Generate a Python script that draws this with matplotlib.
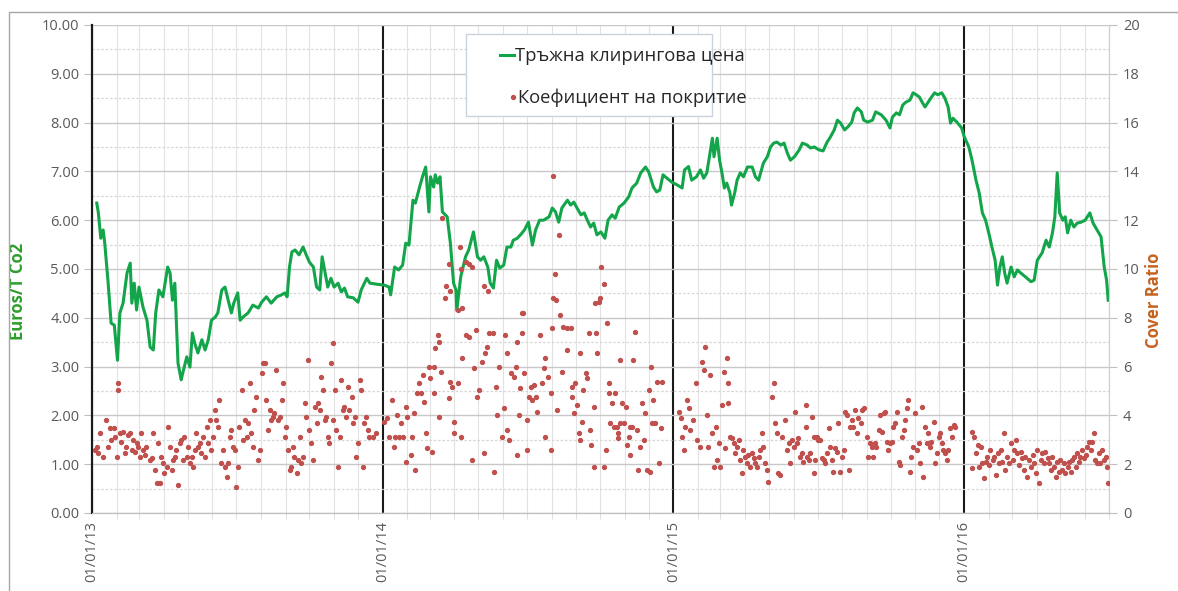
import matplotlib
matplotlib.use("Agg")
import matplotlib.pyplot as plt
import matplotlib.dates as mdates
from matplotlib.ticker import MultipleLocator, FormatStrFormatter
from matplotlib.lines import Line2D
from matplotlib.patches import Rectangle
import numpy as np
import pandas as pd

plt.rcParams['font.family'] = ['Open Sans', 'DejaVu Sans']

# ---------------- data ----------------
# auction clearing price (EUR/t CO2): day-of-year and value, per year
price_2013_day = [6, 8, 11, 14, 16, 20, 24, 28, 32, 35, 39, 44, 48, 50, 53, 56, 59, 64, 69, 73, 77, 80, 84, 89,
                  95, 98, 101, 104, 108, 112, 114, 119, 123, 126, 129, 133, 138, 142, 146, 150, 155, 158, 163,
                  167, 171, 175, 178, 183, 186, 190, 196, 202, 209, 213, 219, 225, 232, 238, 242, 245, 248, 251,
                  255, 260, 265, 269, 273, 278, 282, 286, 289, 292, 296, 300, 304, 309, 313, 317, 321, 328, 334,
                  338, 345, 349, 357]
price_2013_val = [6.35, 6.15, 5.63, 5.80, 5.53, 4.77, 3.89, 3.85, 3.13, 4.10, 4.30, 4.92, 5.12, 4.30, 4.71, 4.16,
                  4.63, 4.22, 3.95, 3.40, 3.34, 4.10, 4.57, 4.43, 5.04, 4.92, 4.36, 4.71, 3.07, 2.73, 2.87, 3.20,
                  2.99, 3.69, 3.48, 3.28, 3.55, 3.34, 3.55, 3.95, 4.02, 4.10, 4.57, 4.63, 4.36, 4.10, 4.30, 4.51,
                  3.95, 4.02, 4.10, 4.26, 4.20, 4.32, 4.43, 4.30, 4.43, 4.47, 4.51, 4.43, 5.04, 5.35, 5.39, 5.29,
                  5.45, 5.29, 5.14, 5.04, 4.63, 4.57, 5.25, 4.98, 4.63, 4.81, 4.63, 4.71, 4.53, 4.61, 4.43, 4.41,
                  4.32, 4.57, 4.81, 4.71, 4.69]
price_2014_day = [2, 8, 10, 15, 20, 25, 29, 33, 38, 41, 47, 50, 54, 58, 60, 64, 66, 69, 72, 75, 81, 85, 89, 92,
                  93, 98, 104, 108, 114, 119, 123, 127, 132, 135, 139, 143, 147, 152, 156, 161, 164, 169, 173,
                  178, 183, 188, 192, 197, 202, 209, 213, 217, 221, 225, 232, 236, 240, 244, 249, 253, 257, 261,
                  265, 269, 274, 279, 283, 288, 292, 297, 303, 309, 313, 319, 324, 330, 334, 340, 344, 348, 352,
                  357, 363]
price_2014_val = [4.67, 4.63, 4.47, 5.04, 4.98, 5.08, 5.53, 5.49, 6.41, 6.35, 6.72, 6.89, 7.09, 6.17, 6.89, 6.68,
                  6.93, 6.76, 6.89, 6.17, 6.07, 5.53, 4.71, 4.57, 4.15, 4.84, 5.25, 5.39, 5.76, 5.25, 5.18, 5.25,
                  5.04, 4.71, 4.61, 5.18, 5.02, 5.08, 5.45, 5.45, 5.59, 5.63, 5.70, 5.80, 5.96, 5.49, 5.80, 6.00,
                  6.00, 6.07, 6.25, 6.17, 5.96, 6.25, 6.41, 6.31, 6.37, 6.25, 6.11, 6.15, 6.00, 5.86, 5.94, 5.70,
                  5.76, 5.63, 6.00, 6.11, 6.04, 6.27, 6.35, 6.48, 6.66, 6.76, 6.97, 7.09, 6.99, 6.68, 6.58, 6.62,
                  6.93, 6.86, 6.78]
price_2015_day = [5, 11, 14, 19, 23, 29, 34, 38, 42, 46, 49, 51, 55, 58, 61, 64, 67, 71, 73, 77, 80, 84, 88, 93,
                  99, 103, 107, 113, 118, 122, 126, 130, 135, 139, 143, 147, 152, 158, 162, 168, 172, 177, 183,
                  188, 193, 197, 202, 206, 210, 215, 219, 224, 227, 231, 236, 239, 244, 250, 254, 261, 267, 272,
                  275, 280, 284, 288, 292, 297, 301, 305, 309, 313, 316, 320, 324, 328, 332, 337, 341, 345, 348,
                  351, 356, 362]
price_2015_val = [6.72, 6.66, 7.03, 7.10, 6.82, 6.89, 7.03, 6.86, 6.97, 7.38, 7.68, 7.30, 7.68, 7.23, 6.97, 6.66,
                  6.76, 6.56, 6.31, 6.56, 6.82, 6.97, 6.89, 7.09, 7.09, 6.89, 6.82, 7.17, 7.30, 7.50, 7.58, 7.60,
                  7.54, 7.58, 7.38, 7.23, 7.30, 7.44, 7.58, 7.54, 7.48, 7.50, 7.44, 7.42, 7.60, 7.70, 7.85, 8.05,
                  7.99, 7.85, 7.91, 8.01, 8.20, 8.30, 8.22, 8.05, 8.01, 8.05, 8.22, 8.16, 8.05, 7.89, 8.11, 8.20,
                  8.16, 8.36, 8.42, 8.46, 8.61, 8.57, 8.52, 8.40, 8.32, 8.42, 8.52, 8.61, 8.57, 8.61, 8.50, 8.32,
                  7.99, 8.09, 8.01, 7.89]
price_2016_day = [0, 6, 10, 15, 19, 23, 27, 31, 35, 39, 42, 45, 48, 51, 54, 59, 63, 67, 71, 77, 84, 88, 92, 98,
                  103, 107, 111, 114, 117, 120, 124, 127, 130, 134, 138, 142, 147, 152, 158, 162, 167, 172, 176,
                  179, 181]
price_2016_val = [7.72, 7.50, 7.23, 6.82, 6.56, 6.15, 6.00, 5.74, 5.45, 5.18, 4.67, 5.04, 5.25, 4.92, 4.71, 5.04,
                  4.84, 4.98, 4.92, 4.84, 4.74, 4.77, 5.18, 5.33, 5.59, 5.45, 5.74, 6.07, 6.97, 6.15, 6.00, 6.07,
                  5.74, 6.00, 5.86, 5.94, 5.96, 6.00, 6.15, 5.94, 5.80, 5.66, 5.04, 4.77, 4.36]

# cover ratio: day-of-year and value, per year
cover_2013_day = [4, 6, 8, 10, 14, 18, 20, 22, 24, 27, 29, 31, 33, 33, 35, 37, 39, 41, 43, 45, 48, 50, 52, 54, 56,
                  58, 60, 62, 64, 66, 68, 73, 75, 77, 79, 81, 83, 85, 87, 89, 91, 94, 96, 98, 100, 102, 104, 106,
                  108, 110, 112, 114, 116, 119, 121, 123, 125, 127, 129, 131, 133, 135, 137, 140, 142, 144, 146,
                  148, 150, 152, 154, 156, 158, 160, 162, 165, 167, 169, 171, 173, 175, 177, 179, 181, 183, 185,
                  188, 190, 192, 194, 196, 198, 200, 202, 204, 206, 208, 211, 213, 215, 217, 219, 221, 223, 225,
                  227, 229, 231, 234, 236, 238, 240, 242, 244, 246, 248, 250, 252, 254, 257, 259, 261, 263, 265,
                  267, 269, 271, 273, 275, 277, 280, 282, 284, 286, 288, 290, 292, 294, 296, 298, 300, 302, 303,
                  305, 307, 309, 311, 313, 315, 317, 319, 321, 323, 326, 328, 330, 332, 334, 336, 338, 340, 342,
                  344, 346, 348, 353, 357]
cover_2013_val = [2.6, 2.7, 2.45, 3.27, 2.31, 3.81, 2.72, 3.47, 3.0, 3.47, 3.13, 2.31, 5.32, 5.04, 3.27, 2.93,
                  3.33, 2.45, 2.72, 3.2, 3.27, 2.58, 3.0, 2.51, 2.86, 2.72, 2.31, 3.27, 2.58, 2.38, 2.72, 2.17,
                  2.24, 3.27, 1.76, 1.22, 2.86, 1.22, 2.31, 2.04, 1.63, 1.9, 3.54, 2.72, 1.76, 2.17, 2.31, 2.58,
                  1.15, 2.86, 3.0, 2.17, 3.13, 2.31, 2.72, 2.04, 2.31, 1.9, 2.58, 3.27, 2.72, 2.86, 2.45, 3.13,
                  2.31, 3.54, 2.86, 3.81, 2.58, 3.13, 4.22, 3.81, 3.54, 4.63, 2.04, 2.58, 1.9, 1.49, 2.04, 3.13,
                  3.4, 2.72, 2.58, 1.08, 1.9, 3.54, 5.04, 3.0, 3.81, 3.13, 3.68, 5.32, 3.27, 2.72, 4.22, 4.77,
                  2.17, 2.58, 5.73, 6.13, 6.13, 4.63, 3.4, 4.22, 3.81, 3.95, 4.09, 5.86, 3.81, 3.95, 4.63, 5.32,
                  3.13, 3.54, 2.58, 1.76, 1.9, 2.72, 2.31, 1.63, 2.17, 3.13, 2.04, 2.31, 4.5, 3.95, 6.27, 3.4,
                  2.86, 2.17, 4.36, 3.68, 4.5, 4.22, 5.59, 5.04, 3.81, 3.95, 3.13, 2.86, 6.13, 6.95, 3.81, 5.04,
                  3.4, 1.9, 3.13, 5.45, 4.22, 4.36, 3.95, 5.18, 4.22, 4.77, 3.68, 3.95, 2.31, 2.86, 5.45, 5.04,
                  1.9, 3.68, 3.95, 3.4, 3.13, 3.13, 3.27]
cover_2014_day = [2, 6, 8, 12, 14, 16, 18, 20, 23, 25, 29, 29, 31, 35, 37, 39, 41, 43, 46, 48, 50, 52, 54, 56,
                  58, 60, 62, 64, 64, 66, 69, 71, 71, 73, 75, 78, 79, 83, 83, 85, 85, 87, 89, 90, 94, 94, 97, 98,
                  98, 100, 100, 104, 105, 108, 109, 112, 112, 115, 117, 119, 121, 125, 127, 127, 129, 131, 132,
                  133, 138, 140, 142, 144, 146, 150, 152, 154, 156, 156, 158, 161, 165, 167, 169, 169, 171, 173,
                  175, 175, 176, 177, 181, 181, 184, 186, 188, 190, 192, 194, 198, 200, 202, 204, 204, 207, 211,
                  211, 213, 214, 214, 216, 217, 219, 222, 223, 225, 227, 232, 232, 236, 238, 238, 240, 242, 244,
                  246, 248, 248, 250, 252, 255, 257, 259, 260, 261, 265, 265, 267, 268, 269, 271, 273, 274, 278,
                  278, 280, 282, 284, 284, 286, 288, 290, 292, 294, 296, 296, 298, 298, 301, 303, 305, 307, 309,
                  311, 311, 313, 314, 317, 319, 321, 323, 326, 328, 330, 332, 334, 336, 337, 338, 340, 342, 344,
                  347, 349, 351]
cover_2014_val = [3.74, 3.88, 3.13, 4.63, 2.72, 3.13, 4.02, 3.13, 3.68, 3.13, 4.36, 2.11, 3.95, 2.38, 3.13, 4.09,
                  1.76, 4.91, 5.32, 4.91, 5.66, 4.56, 3.27, 2.65, 6.0, 5.52, 2.52, 6.0, 4.91, 6.75, 7.3, 7.02, 3.95,
                  5.79, 12.1, 8.8, 9.3, 4.7, 10.2, 5.38, 9.1, 5.18, 3.74, 3.27, 5.32, 8.3, 10.9, 3.13, 10.0, 6.34,
                  8.4, 7.3, 10.3, 7.23, 10.2, 2.17, 10.1, 5.93, 7.5, 4.77, 5.04, 6.2, 2.45, 9.3, 6.54, 6.82, 9.1,
                  7.36, 7.36, 1.7, 5.18, 4.02, 6.0, 3.13, 4.29, 7.3, 6.54, 3.4, 3.0, 5.72, 5.59, 6.0, 7.02, 2.38,
                  4.02, 5.11, 8.21, 7.36, 8.2, 5.72, 3.81, 2.58, 4.77, 5.18, 4.63, 5.25, 4.77, 4.15, 7.3, 5.32,
                  5.93, 3.13, 6.34, 5.59, 4.91, 2.58, 7.57, 13.8, 8.8, 9.8, 8.73, 4.22, 11.4, 8.12, 5.79, 7.64,
                  7.57, 6.68, 7.57, 4.77, 5.18, 4.09, 5.32, 4.43, 3.27, 6.54, 3.0, 3.74, 5.04, 5.72, 5.52, 7.36,
                  3.4, 2.79, 4.36, 1.9, 8.59, 7.36, 6.54, 8.66, 8.8, 10.1, 1.9, 9.4, 2.58, 7.77, 5.32, 4.91, 3.68,
                  4.5, 3.54, 4.91, 3.54, 3.27, 3.06, 6.27, 3.68, 4.5, 3.68, 4.36, 2.79, 3.13, 3.54, 2.38, 3.54,
                  6.27, 7.43, 3.4, 1.76, 2.72, 4.5, 3.0, 4.09, 1.76, 5.04, 1.7, 6.0, 3.68, 4.63, 3.68, 5.38, 2.04,
                  3.47, 5.38]
cover_2015_day = [7, 9, 11, 13, 15, 17, 19, 21, 25, 28, 30, 34, 36, 38, 40, 42, 44, 46, 48, 51, 53, 55, 57, 59,
                  61, 63, 65, 67, 69, 69, 71, 73, 76, 78, 80, 82, 84, 86, 88, 90, 92, 94, 96, 99, 101, 103, 105,
                  107, 109, 111, 113, 115, 117, 119, 124, 126, 128, 130, 132, 134, 136, 140, 143, 145, 147, 149,
                  151, 153, 155, 157, 159, 161, 163, 166, 166, 168, 170, 172, 174, 176, 176, 178, 180, 182, 184,
                  186, 189, 191, 193, 195, 197, 199, 201, 203, 205, 207, 209, 212, 214, 216, 218, 220, 222, 224,
                  226, 228, 230, 232, 235, 237, 239, 243, 245, 247, 249, 251, 253, 255, 258, 260, 262, 264, 266,
                  268, 270, 272, 274, 276, 278, 281, 283, 285, 287, 289, 291, 293, 295, 297, 299, 301, 304, 306,
                  308, 310, 312, 314, 316, 318, 320, 322, 324, 327, 329, 331, 333, 335, 337, 339, 341, 343, 345,
                  347, 350, 352, 354]
cover_2015_val = [4.15, 3.88, 3.13, 2.58, 3.54, 4.63, 4.29, 3.4, 3.81, 5.32, 3.0, 2.72, 6.2, 5.86, 6.82, 4.02,
                  2.72, 5.66, 3.27, 1.9, 3.54, 2.17, 2.86, 1.9, 4.43, 5.79, 2.65, 6.34, 5.32, 4.5, 3.13, 3.06, 2.86,
                  2.45, 2.72, 3.0, 2.17, 1.63, 2.58, 2.31, 2.04, 2.38, 1.9, 2.45, 2.24, 2.04, 1.9, 2.31, 2.58, 3.27,
                  2.72, 2.04, 1.76, 1.29, 4.77, 5.32, 3.68, 3.27, 1.63, 1.56, 3.13, 3.81, 2.58, 2.86, 2.04, 3.0,
                  2.72, 4.15, 2.86, 3.06, 2.31, 2.45, 2.11, 4.43, 3.54, 2.31, 2.17, 2.45, 3.95, 1.63, 3.13, 2.17,
                  3.13, 3.0, 3.0, 2.24, 2.17, 2.04, 2.45, 3.47, 2.72, 2.17, 1.7, 2.65, 2.51, 3.68, 1.7, 2.31, 2.58,
                  4.15, 4.02, 1.76, 3.54, 3.81, 3.54, 4.22, 3.27, 3.88, 3.68, 4.22, 4.29, 3.13, 2.31, 2.86, 2.72,
                  2.31, 2.86, 2.72, 3.4, 4.02, 3.33, 4.09, 4.15, 2.93, 2.58, 2.86, 2.93, 3.54, 3.68, 4.15, 2.11,
                  1.97, 3.13, 3.4, 3.81, 4.29, 4.63, 1.7, 2.31, 2.72, 4.09, 2.58, 2.86, 2.04, 4.36, 1.49, 3.54,
                  2.86, 3.27, 2.72, 2.93, 3.74, 2.04, 2.45, 3.13, 3.27, 2.86, 2.58, 2.45, 2.17, 2.58, 3.47, 3.13,
                  3.61, 3.54]
cover_2016_day = [10, 10, 13, 15, 17, 19, 21, 23, 25, 27, 29, 31, 33, 36, 38, 40, 42, 44, 46, 48, 50, 52, 54, 56,
                  59, 61, 63, 65, 67, 69, 71, 73, 75, 77, 79, 82, 84, 86, 88, 90, 92, 94, 96, 98, 100, 102, 105,
                  107, 109, 111, 113, 115, 117, 119, 121, 123, 125, 127, 130, 132, 134, 136, 138, 140, 142, 144,
                  146, 148, 150, 153, 155, 157, 159, 161, 163, 165, 167, 169, 171, 173, 176, 178, 180, 181]
cover_2016_val = [3.33, 1.83, 3.13, 2.45, 2.79, 1.9, 2.72, 2.04, 1.42, 2.11, 2.31, 1.97, 2.58, 2.17, 2.31, 1.56,
                  2.45, 2.04, 2.58, 2.11, 3.27, 1.76, 2.31, 2.04, 2.86, 2.17, 2.58, 3.0, 2.45, 1.97, 2.51, 2.24,
                  1.76, 2.31, 1.49, 2.17, 1.9, 2.38, 2.04, 1.63, 2.58, 1.22, 2.17, 2.45, 2.04, 2.51, 2.24, 2.04,
                  1.76, 2.31, 1.9, 1.49, 2.11, 1.7, 2.17, 1.76, 2.04, 1.63, 1.9, 2.11, 1.7, 2.17, 2.31, 1.9, 2.45,
                  2.11, 2.31, 2.58, 2.24, 2.38, 2.72, 2.93, 2.58, 2.93, 3.27, 2.17, 2.04, 2.45, 2.04, 2.58, 2.17,
                  2.31, 1.9, 1.22]

years = [2013, 2014, 2015, 2016]
price_days = [price_2013_day, price_2014_day, price_2015_day, price_2016_day]
price_vals = [price_2013_val, price_2014_val, price_2015_val, price_2016_val]
cover_days = [cover_2013_day, cover_2014_day, cover_2015_day, cover_2016_day]
cover_vals = [cover_2013_val, cover_2014_val, cover_2015_val, cover_2016_val]

legend_labels = ["Тръжна клирингова цена", "Коефициент на покритие"]
left_label = "Euros/T Co2"
right_label = "Cover Ratio"


def to_dates(year, days):
    return pd.Timestamp(f"{year}-01-01") + pd.to_timedelta(np.array(days, dtype=float), unit="D")


price_x = np.concatenate([to_dates(y, d) for y, d in zip(years, price_days)])
price_y = np.concatenate([np.array(v) for v in price_vals])
cover_x = np.concatenate([to_dates(y, d) for y, d in zip(years, cover_days)])
cover_y = np.concatenate([np.array(v) for v in cover_vals])

# ---------------- figure ----------------
W, H = 1178, 591
fig = plt.figure(figsize=(W / 100, H / 100), dpi=100)
fig.patch.set_facecolor("white")

# outer chart frame
fig.patches.append(Rectangle((9 / W, -0.1), 1.2, 1 - 12 / H + 0.1, transform=fig.transFigure,
                             fill=False, edgecolor="#A6A6A6", linewidth=1.0))

ax = fig.add_axes([92 / W, 1 - 513 / H, (1109 - 92) / W, (513 - 25) / H])
ax2 = ax.twinx()

GREEN = "#12A54A"
RED = "#C0504D"
TXT = "#595959"

ax.plot(price_x, price_y, color=GREEN, lw=2.2, zorder=3, solid_joinstyle="round")
ax2.plot(cover_x, cover_y, linestyle="none", marker="o", ms=2.8, color=RED, mec=RED, zorder=3)

ax.set_xlim(pd.Timestamp("2013-01-01"), pd.Timestamp("2016-07-01"))
ax.set_ylim(0, 10)
ax2.set_ylim(0, 20)

ax.yaxis.set_major_locator(MultipleLocator(1))
ax.yaxis.set_minor_locator(MultipleLocator(0.5))
ax.yaxis.set_major_formatter(FormatStrFormatter("%.2f"))
ax2.yaxis.set_major_locator(MultipleLocator(2))

ax.xaxis.set_major_locator(mdates.YearLocator())
ax.xaxis.set_minor_locator(mdates.MonthLocator())
ax.xaxis.set_major_formatter(mdates.DateFormatter("%d/%m/%y"))

ax.grid(which="major", axis="y", color="#C8C8C8", lw=1.0)
ax.grid(which="minor", axis="y", color="#D6D6D6", lw=0.9, linestyle=(0, (2, 1.5)))
ax.grid(which="minor", axis="x", color="#E2E2E2", lw=0.8)
ax.grid(which="major", axis="x", color="#1a1a1a", lw=1.5)
ax.set_axisbelow(True)

for a in (ax, ax2):
    a.spines["top"].set_visible(False)
    a.spines["bottom"].set_color("#BFBFBF")
    a.spines["right"].set_color("#D0D0D0")
    a.spines["left"].set_color("#1a1a1a")
    a.spines["left"].set_linewidth(1.5)

ax.tick_params(axis="y", which="major", length=6, color="#BFBFBF", labelsize=10.5, labelcolor=TXT, pad=3)
ax.tick_params(axis="y", which="minor", length=0)
ax.tick_params(axis="x", which="major", length=0, labelsize=10.5, labelcolor=TXT, pad=6)
ax.tick_params(axis="x", which="minor", length=4, color="#D9D9D9")
ax2.tick_params(axis="y", which="major", length=6, color="#BFBFBF", labelsize=10.5, labelcolor=TXT, pad=4)
for lbl in ax.get_xticklabels():
    lbl.set_rotation(90)
    lbl.set_va("top")
    lbl.set_ha("center")

ax.set_ylabel(left_label, color="#2E9E2E", fontsize=12, fontweight="bold")
ax.yaxis.set_label_coords(-0.064, 0.453)
ax2.set_ylabel(right_label, color="#C5631F", fontsize=12, fontweight="bold", rotation=90)
ax2.yaxis.set_label_coords(1.035, 0.436)

# legend box (drawn in figure coordinates)
lx0, ly0, lx1, ly1 = 466, 34, 712, 116
fig.patches.append(Rectangle((lx0 / W, 1 - ly1 / H), (lx1 - lx0) / W, (ly1 - ly0) / H,
                             transform=fig.transFigure, facecolor="white", edgecolor="#C9D3E0",
                             linewidth=1.0, zorder=5))
fig.lines.append(Line2D([500 / W, 514 / W], [1 - 55 / H, 1 - 55 / H], transform=fig.transFigure,
                        color=GREEN, lw=2.2, zorder=6))
fig.lines.append(Line2D([513 / W], [1 - 97 / H], transform=fig.transFigure, marker="o", ms=2.8,
                        color=RED, linestyle="none", zorder=6))
fig.text(515 / W, 1 - 56 / H, legend_labels[0], fontsize=13.2, color="#262626", va="center", ha="left", zorder=7)
fig.text(518 / W, 1 - 98 / H, legend_labels[1], fontsize=13.2, color="#262626", va="center", ha="left", zorder=7)

fig.savefig("out.png", dpi=100)
